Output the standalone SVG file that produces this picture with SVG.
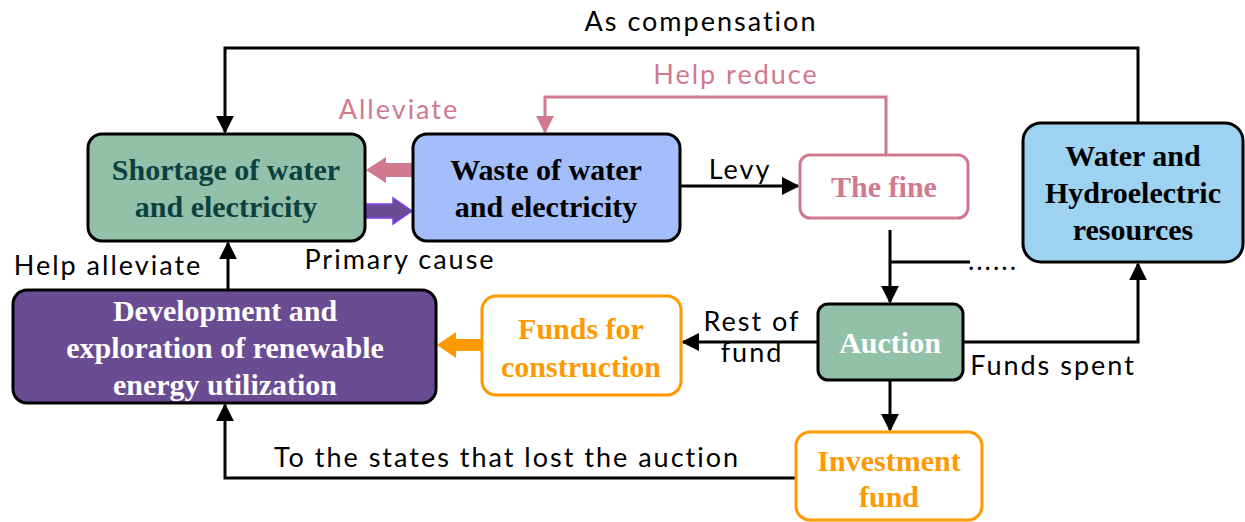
<svg xmlns="http://www.w3.org/2000/svg" width="1245" height="522" viewBox="0 0 1245 522">
<defs>
<style>
.box{stroke:#000;stroke-width:3}
.nt{font-family:"Liberation Serif","Times New Roman",serif;font-weight:bold;font-size:30px;text-anchor:middle}
.lb{font-family:"Comic Sans MS","Lato","Open Sans",sans-serif;font-size:27px;letter-spacing:2px}
.ln{fill:none;stroke:#000;stroke-width:3}
.pk{fill:none;stroke:#D0798F;stroke-width:3}
</style>
<marker id="ah" viewBox="0 0 10 10" refX="9" refY="5" markerWidth="6" markerHeight="6" markerUnits="strokeWidth" orient="auto"><path d="M0,0L10,5L0,10z" fill="#000"/></marker>
<marker id="ahp" viewBox="0 0 10 10" refX="9" refY="5" markerWidth="6" markerHeight="6" markerUnits="strokeWidth" orient="auto"><path d="M0,0L10,5L0,10z" fill="#D0798F"/></marker>
</defs>
<rect width="1245" height="522" fill="#fff"/>
<g id="connectors">
<path class="ln" d="M1138,123V48H225V132" marker-end="url(#ah)"/>
<path class="pk" d="M886,155V97H545V132" marker-end="url(#ahp)"/>
<path class="ln" d="M680,186H798" marker-end="url(#ah)"/>
<path class="ln" d="M890,230V302" marker-end="url(#ah)"/>
<path class="ln" d="M890,262H970"/>
<path class="ln" d="M818,342H683" marker-end="url(#ah)"/>
<path class="ln" d="M963,342H1138V264" marker-end="url(#ah)"/>
<path class="ln" d="M890,380V430" marker-end="url(#ah)"/>
<path class="ln" d="M796,478H225V405" marker-end="url(#ah)"/>
<path class="ln" d="M228,290V243" marker-end="url(#ah)"/>
<path d="M413,163H386V157L366,170L386,183V177H413Z" fill="#D0798F"/>
<path d="M366,204H393V198L412,211L393,224V218H366Z" fill="#6A4C93" stroke="#7B3FF0" stroke-width="1.5"/>
<path d="M482,339H456V332L437,345L456,358V351H482Z" fill="#FF9900"/>
<text class="lb" x="701" y="31" text-anchor="middle">As compensation</text>
<text class="lb" x="736" y="84" text-anchor="middle" fill="#D0798F">Help reduce</text>
<text class="lb" x="399" y="119" text-anchor="middle" fill="#D0798F">Alleviate</text>
<text class="lb" x="740" y="179" text-anchor="middle">Levy</text>
<text class="lb" x="993" y="270" text-anchor="middle">......</text>
<text class="lb" x="400" y="269" text-anchor="middle">Primary cause</text>
<text class="lb" x="108" y="275" text-anchor="middle">Help alleviate</text>
<text class="lb" x="752" y="331" text-anchor="middle">Rest of</text>
<text class="lb" x="752" y="362" text-anchor="middle">fund</text>
<text class="lb" x="1053" y="375" text-anchor="middle">Funds spent</text>
<text class="lb" x="507" y="467" text-anchor="middle">To the states that lost the auction</text>
</g>
<g id="shortage">
<rect class="box" x="88" y="134" width="277" height="107" rx="14" fill="#93C0A9"/>
<text class="nt" x="226" y="180" fill="#0D4040">Shortage of water</text>
<text class="nt" x="226" y="217" fill="#0D4040">and electricity</text>
</g>
<g id="waste">
<rect class="box" x="413" y="134" width="267" height="107" rx="14" fill="#A4BEFB"/>
<text class="nt" x="546" y="180">Waste of water</text>
<text class="nt" x="546" y="217">and electricity</text>
</g>
<g id="fine">
<rect x="800" y="155" width="168" height="63" rx="10" fill="#fff" stroke="#D0798F" stroke-width="3"/>
<text class="nt" x="884" y="197" fill="#D0798F">The fine</text>
</g>
<g id="water">
<rect class="box" x="1023" y="123" width="220" height="139" rx="18" fill="#9DD2F0"/>
<text class="nt" x="1133" y="166">Water and</text>
<text class="nt" x="1133" y="203">Hydroelectric</text>
<text class="nt" x="1133" y="240">resources</text>
</g>
<g id="development">
<rect class="box" x="13" y="290" width="423" height="113" rx="14" fill="#6A4C93"/>
<text class="nt" x="225" y="321" fill="#fff">Development and</text>
<text class="nt" x="225" y="358" fill="#fff">exploration of renewable</text>
<text class="nt" x="225" y="395" fill="#fff">energy utilization</text>
</g>
<g id="funds">
<rect x="482" y="296" width="199" height="99" rx="14" fill="#fff" stroke="#FF9900" stroke-width="3"/>
<text class="nt" x="581" y="339" fill="#FF9900">Funds for</text>
<text class="nt" x="581" y="377" fill="#FF9900">construction</text>
</g>
<g id="auction">
<rect class="box" x="818" y="304" width="145" height="76" rx="10" fill="#93C0A9"/>
<text class="nt" x="890" y="353" fill="#fff">Auction</text>
</g>
<g id="investment">
<rect x="796" y="432" width="186" height="88" rx="14" fill="#fff" stroke="#FF9900" stroke-width="3"/>
<text class="nt" x="889" y="471" fill="#FF9900">Investment</text>
<text class="nt" x="889" y="507" fill="#FF9900">fund</text>
</g>
</svg>
